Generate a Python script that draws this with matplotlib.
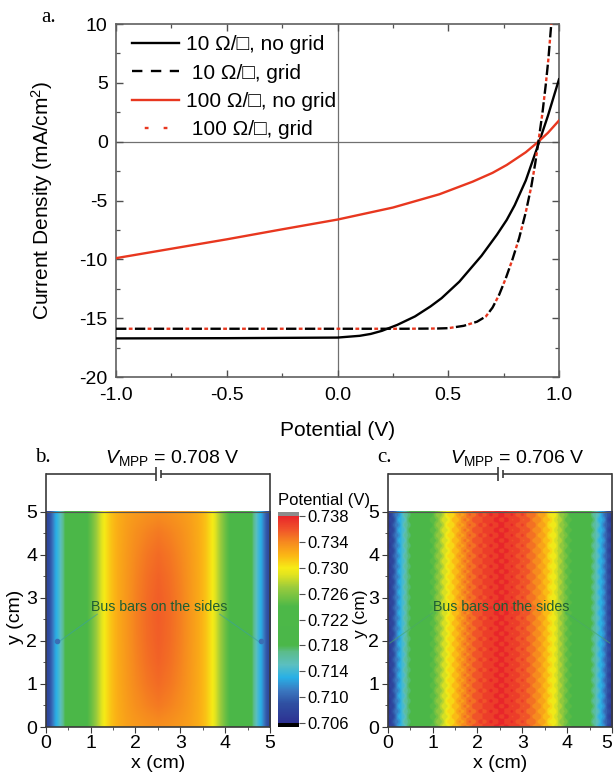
import numpy as np
import matplotlib
matplotlib.use('Agg')
import matplotlib.pyplot as plt
from matplotlib.colors import LinearSegmentedColormap, BoundaryNorm, Normalize
from matplotlib.ticker import FixedLocator, MultipleLocator
import matplotlib.cm as cm

plt.rcParams['font.family'] = ['Liberation Sans', 'DejaVu Sans']
plt.rcParams['mathtext.fontset'] = 'custom'
plt.rcParams['mathtext.rm'] = 'Liberation Sans'
plt.rcParams['mathtext.it'] = 'Liberation Sans:italic'
plt.rcParams['mathtext.bf'] = 'Liberation Sans:bold'
plt.rcParams['axes.unicode_minus'] = False

# ---------------- Panel a data (J-V curves) ----------------
V_10_nogrid = [-1.0, -0.5, 0.0, 0.1, 0.15, 0.2, 0.27, 0.35, 0.42, 0.47, 0.55,
               0.65, 0.72, 0.764, 0.8, 0.85, 0.9, 0.95, 1.0]
J_10_nogrid = [-16.72, -16.70, -16.65, -16.50, -16.34, -16.08, -15.57, -14.85,
               -14.0, -13.3, -11.9, -9.7, -7.9, -6.65, -5.4, -3.3, -0.6, 2.2, 5.3]

V_10_grid = [-1.0, -0.5, 0.0, 0.3, 0.45, 0.5, 0.57, 0.63, 0.67, 0.70, 0.73, 0.76,
             0.79, 0.82, 0.85, 0.875, 0.893, 0.907, 0.925, 0.94, 0.952, 0.962, 0.972]
J_10_grid = [-15.9, -15.9, -15.9, -15.9, -15.88, -15.85, -15.65, -15.3, -14.85, -14.1,
             -13.0, -11.6, -10.0, -8.2, -6.0, -3.8, -1.8, 0.0, 2.4, 4.8, 7.0, 9.3, 11.5]

V_100_nogrid = [-1.0, -0.75, -0.5, -0.25, 0.0, 0.25, 0.46, 0.61, 0.70, 0.764,
                0.85, 0.907, 0.95, 1.0]
J_100_nogrid = [-9.9, -9.1, -8.3, -7.45, -6.62, -5.6, -4.47, -3.4, -2.65, -1.98,
                -0.9, 0.0, 0.75, 1.8]

V_100_grid = [-1.0, -0.5, 0.0, 0.3, 0.45, 0.5, 0.57, 0.63, 0.67, 0.70, 0.73, 0.76,
              0.79, 0.82, 0.85, 0.875, 0.893, 0.907, 0.925, 0.94, 0.952, 0.962, 0.972]
J_100_grid = [-15.9, -15.9, -15.9, -15.9, -15.88, -15.85, -15.65, -15.3, -14.85, -14.1,
              -13.0, -11.6, -10.0, -8.2, -6.0, -3.8, -1.8, 0.0, 2.4, 4.8, 7.0, 9.3, 11.5]

legend_labels = ["10 \u03a9/\u25a1, no grid", " 10 \u03a9/\u25a1, grid",
                 "100 \u03a9/\u25a1, no grid", " 100 \u03a9/\u25a1, grid"]

# ---------------- Panels b, c data (potential maps) ----------------
# half profiles across x (0 .. 2.5 cm), mirrored about x = 2.5 cm
prof_x = [0.0, 0.1, 0.2, 0.3, 0.4, 0.5, 0.75, 1.0, 1.15, 1.3, 1.45, 1.6, 1.8, 2.0, 2.25, 2.5]
b_mid = [0.7075, 0.7095, 0.7125, 0.7145, 0.7175, 0.7195, 0.7220, 0.7250, 0.7275,
         0.7300, 0.7315, 0.7325, 0.7334, 0.7343, 0.7351, 0.7356]
b_edge = [0.7075, 0.7095, 0.7125, 0.7145, 0.7175, 0.7195, 0.7220, 0.7250, 0.7275,
          0.7300, 0.7315, 0.7323, 0.7329, 0.7332, 0.7335, 0.7337]
b_ypos = [0, 0.5, 1, 1.5, 2, 2.5, 3, 3.5, 4, 4.5, 5]
b_yweight = [0, 0.45, 0.72, 0.88, 0.97, 1.0, 0.97, 0.88, 0.72, 0.45, 0]
c_prof = [0.7070, 0.7090, 0.7120, 0.7140, 0.7165, 0.7185, 0.7215, 0.7245, 0.7268,
          0.7293, 0.7310, 0.7328, 0.7345, 0.7356, 0.7366, 0.7372]
c_grid_pitch = 0.24     # metal grid mesh pitch (cm), gives dotted texture
c_grid_amp = 0.0006     # potential ripple over one mesh cell (V)

vmpp_b = "0.708"
vmpp_c = "0.706"
cbar_ticks = [0.706, 0.710, 0.714, 0.718, 0.722, 0.726, 0.730, 0.734, 0.738]

# colormap stops (value, colour)
cmap_stops = [(0.706, '#2d3192'), (0.709, '#2f50a2'), (0.711, '#3a78c0'),
              (0.713, '#28b0e6'), (0.715, '#5bbfc0'), (0.717, '#5bbc8a'),
              (0.718, '#4bb749'), (0.724, '#4cb848'), (0.727, '#9bcb3c'),
              (0.729, '#e3e41f'), (0.730, '#f6eb16'), (0.732, '#fbb515'),
              (0.734, '#f6891f'), (0.736, '#f0522a'), (0.738, '#e8262a')]

# ---------------- figure ----------------
W, H = 615, 775
fig = plt.figure(figsize=(W / 100, H / 100), dpi=100)

# ---- panel a ----
ax = fig.add_axes([116 / W, 1 - 377 / H, 443 / W, 353 / H])
red = '#e8371f'
lw = 1.7
ax.axhline(0, color='#707070', lw=0.9, zorder=1)
ax.axvline(0, color='#707070', lw=0.9, zorder=1)
l1, = ax.plot(V_10_nogrid, J_10_nogrid, color='black', lw=lw, zorder=3)
l4, = ax.plot(V_100_grid, J_100_grid, color=red, lw=lw, ls=(2.6, (1.6, 6.4)), zorder=3)
l2, = ax.plot(V_10_grid, J_10_grid, color='black', lw=lw, ls=(0, (4.4, 3.6)), zorder=4)
l3, = ax.plot(V_100_nogrid, J_100_nogrid, color=red, lw=lw, zorder=3)
ax.set_xlim(-1, 1)
ax.set_ylim(-20, 10)
ax.set_xticks([-1.0, -0.5, 0.0, 0.5, 1.0])
ax.set_xticklabels(['-1.0', '-0.5', '0.0', '0.5', '1.0'])
ax.set_yticks([-20, -15, -10, -5, 0, 5, 10])
ax.xaxis.set_minor_locator(MultipleLocator(0.25))
ax.yaxis.set_minor_locator(MultipleLocator(2.5))
ax.tick_params(which='both', direction='in', top=True, right=True, colors='#505050',
               labelcolor='black', labelsize=14)
ax.tick_params(which='major', length=5, width=1.0)
ax.tick_params(which='minor', length=3, width=0.9)
ax.tick_params(axis='x', pad=7)
ax.tick_params(axis='y', pad=6)
for s in ax.spines.values():
    s.set_color('#606060')
    s.set_linewidth(1.2)
leg = ax.legend([l1, l2, l3, l4], legend_labels, loc='upper left',
                bbox_to_anchor=(0.01, 1.0), frameon=False, fontsize=15,
                handlelength=2.25, labelspacing=0.44, handletextpad=0.35,
                borderaxespad=0.25, borderpad=0.3)
fig.text(337.5 / W, 1 - 430 / H, 'Potential (V)', ha='center', va='center',
         fontsize=15)
fig.text(42 / W, 1 - 200 / H, 'Current Density (mA/cm$^2$)', ha='center', va='center',
         rotation=90, fontsize=15)
fig.text(49 / W, 1 - 17 / H, 'a.', ha='center', va='center', fontsize=15,
         family='Liberation Serif')

# ---- colormap ----
lo, hi = cmap_stops[0][0], cmap_stops[-1][0]
cmap = LinearSegmentedColormap.from_list(
    'origin', [((v - lo) / (hi - lo), c) for v, c in cmap_stops], N=512)
cmap.set_over('#8c8c8c')
cmap.set_under('#000000')
norm = Normalize(vmin=lo, vmax=hi)

px = np.array(prof_x)
x_full = np.concatenate([px, 5 - px[::-1][1:]])
def mirror(v):
    v = np.array(v)
    return np.concatenate([v, v[::-1][1:]])

nx, ny = 600, 600
xg = np.linspace(0, 5, nx)
yg = np.linspace(0, 5, ny)
Xg, Yg = np.meshgrid(xg, yg)

mid_b = np.interp(xg, x_full, mirror(b_mid))
edge_b = np.interp(xg, x_full, mirror(b_edge))
wy = np.interp(yg, b_ypos, b_yweight)
field_b = edge_b[None, :] + (mid_b - edge_b)[None, :] * wy[:, None]

prof_c = np.interp(xg, x_full, mirror(c_prof))
k = 2 * np.pi / c_grid_pitch
texture = np.cos(k * Xg) * np.cos(k * Yg)
field_c = prof_c[None, :] + c_grid_amp * texture
levels_c = np.arange(0.706, 0.7385, 0.001)
norm_c = BoundaryNorm(levels_c, cmap.N, clip=True)

spine_col = '#3a3a3a'

def map_panel(left_px, field, nrm, vtxt, letter, letter_px, txt_x, bus_lines, bus_col,
              markers):
    axm = fig.add_axes([left_px / W, 1 - 727 / H, 224.3 / W, 253 / H])
    axm.imshow(field, origin='lower', extent=[0, 5, 0, 5], cmap=cmap, norm=nrm,
               aspect='auto', interpolation='bilinear', zorder=1)
    axm.set_xlim(0, 5)
    ytop = 5.875
    axm.set_ylim(0, ytop)
    axm.spines['top'].set_visible(False)
    for s in ['left', 'right', 'bottom']:
        axm.spines[s].set_color(spine_col)
        axm.spines[s].set_linewidth(1.2)
    axm.plot([0, 5], [5, 5], color='#555555', lw=0.8, zorder=2)
    kw = dict(color=spine_col, lw=1.2, clip_on=False, solid_capstyle='butt', zorder=5)
    axm.plot([0, 2.46], [ytop, ytop], **kw)
    axm.plot([2.57, 5], [ytop, ytop], **kw)
    axm.plot([2.46, 2.46], [ytop - 0.17, ytop + 0.17], **kw)
    axm.plot([2.57, 2.57], [ytop - 0.10, ytop + 0.10], **kw)
    axm.text(txt_x, 6.12, r'$V_{\rm MPP}$ = ' + vtxt + ' V', ha='center', va='baseline',
             fontsize=14)
    axm.set_xticks([0, 1, 2, 3, 4, 5])
    axm.set_yticks([0, 1, 2, 3, 4, 5])
    axm.xaxis.set_minor_locator(FixedLocator([0.5, 1.5, 2.5, 3.5, 4.5]))
    axm.yaxis.set_minor_locator(FixedLocator([0.5, 1.5, 2.5, 3.5, 4.5]))
    axm.tick_params(which='both', direction='out', colors=spine_col, labelcolor='black',
                    labelsize=14, pad=2)
    axm.tick_params(which='major', length=4)
    axm.tick_params(which='minor', length=2.5)
    for (x0, y0, x1, y1) in bus_lines:
        axm.plot([x0, x1], [y0, y1], color=bus_col, lw=0.8, alpha=0.6, zorder=3)
    if markers:
        axm.plot([0.25, 4.8], [2.0, 2.0], ls='none', marker='o', ms=3,
                 color='#3a6fb5', zorder=4)
    axm.text(2.52, 2.78, 'Bus bars on the sides', ha='center', va='center',
             fontsize=10.2, color='#1e5e34', zorder=6)
    fig.text((left_px + 112) / W, 1 - 763 / H, 'x (cm)', ha='center', va='center',
             fontsize=14)
    fig.text(letter_px / W, 1 - 457 / H, letter, ha='center', va='center', fontsize=15,
             family='Liberation Serif')
    return axm

axb = map_panel(45.7, field_b, norm, vmpp_b, 'b.', 43, 2.83,
                [(1.15, 2.62, 0.28, 1.97), (3.88, 2.62, 4.77, 1.97)], '#3aa0a0', True)
axc = map_panel(387.7, field_c, norm_c, vmpp_c, 'c.', 384, 2.88,
                [(1.0, 2.65, 0.05, 1.95), (3.98, 2.65, 4.95, 1.95)], '#4aa86a', False)
# keep the last x tick label of panel c inside the figure
fig.canvas.draw()
axc.get_xticklabels()[-1].set_horizontalalignment('right')
fig.text(16 / W, 1 - 617 / H, 'y (cm)', ha='center', va='center', rotation=90, fontsize=14)
fig.text(361 / W, 1 - 614 / H, 'y (cm)', ha='center', va='center', rotation=90,
         fontsize=12.5)

# ---- colour bar ----
cax = fig.add_axes([277.7 / W, 1 - 727 / H, 21.3 / W, 215 / H])
sm = cm.ScalarMappable(norm=norm, cmap=cmap)
cb = fig.colorbar(sm, cax=cax, extend='both', extendrect=True, extendfrac=0.02)
cb.set_ticks(cbar_ticks)
cb.set_ticklabels(['%.3f' % t for t in cbar_ticks])
cb.outline.set_visible(False)
cax.tick_params(direction='out', length=4, colors='#505050', labelcolor='black',
                labelsize=12, pad=2)
cax.minorticks_off()
fig.text(278 / W, 1 - 500 / H, 'Potential (V)', ha='left', va='center', fontsize=12)

fig.savefig('out.png', dpi=100)
